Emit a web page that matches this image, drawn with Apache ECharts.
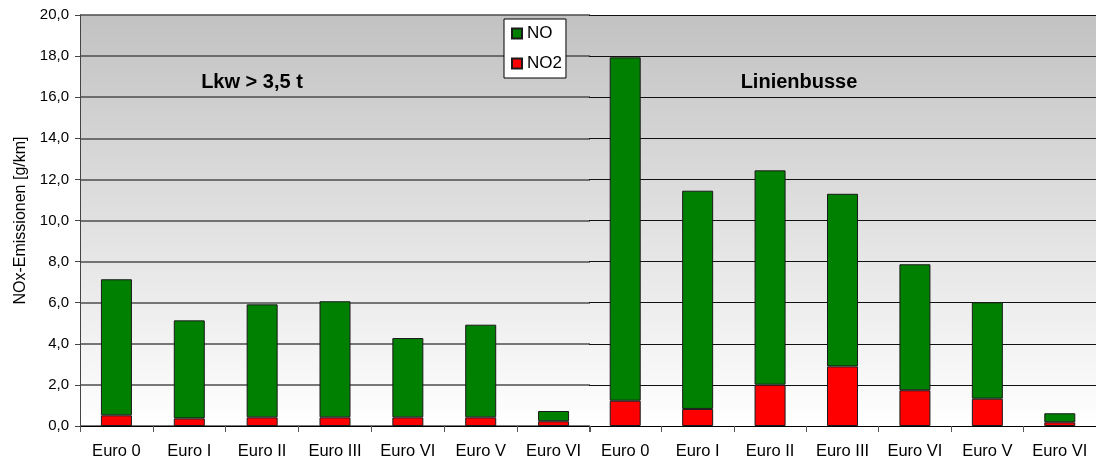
<!DOCTYPE html>
<html>
<head>
<meta charset="utf-8">
<script src="https://cdn.jsdelivr.net/npm/echarts@6/dist/echarts.min.js"></script>
<style>
  html, body { margin: 0; padding: 0; background: #fff; }
  #chart { width: 1096px; height: 463px; }
</style>
</head>
<body>
<div id="chart"></div>
<script>
const categories = ['Euro 0', 'Euro I', 'Euro II', 'Euro III', 'Euro VI', 'Euro V', 'Euro VI'];
// Lkw > 3,5 t
const lkwNO2 = [0.52, 0.37, 0.42, 0.42, 0.42, 0.42, 0.23];
const lkwNO = [6.62, 4.77, 5.50, 5.65, 3.86, 4.51, 0.50];
// Linienbusse
const busNO2 = [1.23, 0.83, 2.01, 2.90, 1.74, 1.33, 0.18];
const busNO = [16.71, 10.62, 10.43, 8.40, 6.13, 4.69, 0.44];
const yTicks = [0, 2, 4, 6, 8, 10, 12, 14, 16, 18, 20];

const font = 'Liberation Sans';
const bgGradient = {
  type: 'linear', x: 0, y: 0, x2: 0, y2: 1,
  colorStops: [
    { offset: 0, color: '#c2c2c2' },
    { offset: 1, color: '#ffffff' }
  ]
};

const chart = echarts.init(document.getElementById('chart'));

function xAxis(gridIndex) {
  return {
    type: 'category',
    gridIndex: gridIndex,
    data: categories,
    axisLine: { lineStyle: { color: '#000', width: 1 } },
    axisTick: { show: true, length: 6, lineStyle: { color: '#555' } },
    axisLabel: {
      color: '#000', fontSize: 16.5, fontFamily: font, margin: 17,
      interval: 0, hideOverlap: false
    }
  };
}

function bar(name, data, stack, color, xi) {
  return {
    name: name,
    type: 'bar',
    stack: stack,
    xAxisIndex: xi,
    yAxisIndex: xi,
    barWidth: 31,
    data: data,
    itemStyle: { color: color, borderColor: '#1a1a1a', borderWidth: 1 }
  };
}

const option = {
  animation: false,
  textStyle: { fontFamily: font },
  title: [
    {
      text: 'Lkw > 3,5 t', left: 247, top: 67, textAlign: 'center',
      textStyle: { fontSize: 20, fontWeight: 'bold', color: '#000', fontFamily: font }
    },
    {
      text: 'Linienbusse', left: 794, top: 67, textAlign: 'center',
      textStyle: { fontSize: 20, fontWeight: 'bold', color: '#000', fontFamily: font }
    }
  ],
  legend: {
    data: ['NO', 'NO2'],
    orient: 'vertical',
    left: 504,
    top: 19,
    backgroundColor: '#fff',
    borderColor: '#000',
    borderWidth: 1,
    borderRadius: 0,
    padding: [6, 4, 6, 7],
    itemGap: 13,
    itemWidth: 10,
    itemHeight: 10,
    icon: 'rect',
    textStyle: { fontSize: 17, color: '#000', fontFamily: font }
  },
  grid: [
    { left: 80, top: 15, width: 510, height: 411, show: true, borderWidth: 0, backgroundColor: bgGradient },
    { left: 589, top: 15, width: 510, height: 411, show: true, borderWidth: 0, backgroundColor: bgGradient }
  ],
  xAxis: [xAxis(0), xAxis(1)],
  yAxis: [
    {
      type: 'value',
      gridIndex: 0,
      min: yTicks[0],
      max: yTicks[yTicks.length - 1],
      interval: 2,
      name: 'NOx-Emissionen [g/km]',
      nameLocation: 'middle',
      nameGap: 51,
      nameTextStyle: { fontSize: 16, color: '#000', fontFamily: font },
      axisLine: { show: true, lineStyle: { color: '#444' } },
      axisTick: { show: true, length: 5, lineStyle: { color: '#444' } },
      axisLabel: {
        color: '#000', fontSize: 15, fontFamily: font, margin: 11,
        formatter: v => v.toFixed(1).replace('.', ',')
      },
      splitLine: { show: true, lineStyle: { color: '#4d4d4d', width: 1.5 } }
    },
    {
      type: 'value',
      gridIndex: 1,
      min: yTicks[0],
      max: yTicks[yTicks.length - 1],
      interval: 2,
      axisLine: { show: false },
      axisTick: { show: false },
      axisLabel: { show: false },
      splitLine: { show: true, lineStyle: { color: '#111', width: 1.2 } }
    }
  ],
  series: [
    bar('NO2', lkwNO2, 'lkw', '#ff0000', 0),
    bar('NO', lkwNO, 'lkw', '#008000', 0),
    bar('NO2', busNO2, 'bus', '#ff0000', 1),
    bar('NO', busNO, 'bus', '#008000', 1)
  ]
};

chart.setOption(option);
</script>
</body>
</html>
